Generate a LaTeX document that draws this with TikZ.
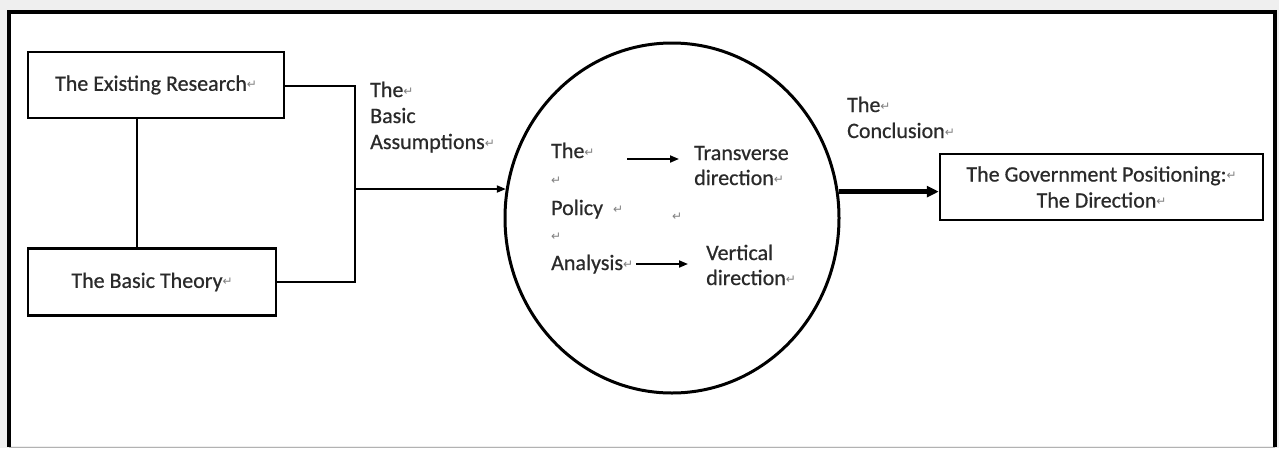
\documentclass[tikz,border=0pt]{standalone}
\usepackage{fontspec}
\setmainfont{Carlito}[FakeBold=0.5]
\newfontfamily\symfont{DejaVu Sans}
\newfontfamily\txtfont{Carlito}[FakeBold=0.6]
\usetikzlibrary{shapes.geometric,arrows.meta}
\definecolor{bg}{HTML}{EFEFEF}
\definecolor{txt}{HTML}{2A2A2A}
\newcommand{\rmk}{{\symfont\fontsize{12}{12}\selectfont\color{gray}\raisebox{2pt}{↵}}}
\begin{document}
\begin{tikzpicture}[x=1pt,y=-1pt,
  box/.style={draw=black,line width=2.5pt,fill=white,inner sep=0pt,text=txt,font=\txtfont\fontsize{22}{26}\selectfont,align=center},
  lbl/.style={anchor=base west,inner sep=0pt,text=txt,font=\txtfont\fontsize{22}{26}\selectfont},
  conn/.style={draw=black,line width=1.5pt},
  arr/.style={draw=black,line width=1.8pt,-{Triangle[length=9pt,width=7pt]}},
  bigarr/.style={draw=black,line width=4.5pt,-{Triangle[length=12pt,width=11pt]}}]
\useasboundingbox (0,0) rectangle (1279,448);
\fill[bg] (0,0) rectangle (1279,448);
\fill[white] (9,12) rectangle (1275,446);
\draw[black,line width=4pt] (9,447) -- (9,12) -- (1275,12) -- (1275,447);
\draw[gray!60,line width=1pt] (9,447) -- (1275,447);

\node[box,minimum width=256pt,minimum height=66pt] (er) at (156,85) {The Existing Research\rmk};
\node[box,minimum width=248pt,minimum height=67pt] (bt) at (152,282) {The Basic Theory\rmk};
\node[box,minimum width=323pt,minimum height=66pt] (gov) at (1101.5,187) {The Government Positioning:\rmk\\The Direction\rmk};
\node[ellipse,draw=black,line width=3pt,minimum width=334pt,minimum height=350pt,inner sep=0pt] (circ) at (672,218) {};

\coordinate (j1) at (355,86);
\coordinate (j2) at (355,282);
\coordinate (j3) at (355,189);
\draw[conn] (er.south -| 137,0) -- (bt.north -| 137,0);
\draw[conn] (er.east |- j1) -- (j1) -- (j2) -- (bt.east);
\draw[arr] (j3) -- (j3 -| circ.170);
\draw[bigarr] (circ.9) -- (circ.9 -| gov.west);

\node[lbl] (t1) at (370,97) {The\rmk};
\node[lbl] (t2) at (370,123) {Basic};
\node[lbl] (t3) at (370,149) {Assumptions\rmk};

\node[lbl] (c1) at (847,112) {The\rmk};
\node[lbl] (c2) at (847,138) {Conclusion\rmk};

\node[lbl] (p1) at (551,158) {The\rmk};
\node[lbl] (p2) at (551,186) {\rmk};
\node[lbl] (p3) at (551,215) {Policy \ \rmk};
\node[lbl] (p4) at (551,242) {\rmk};
\node[lbl] (p5) at (551,270) {Analysis\rmk};
\node[lbl] (m1) at (672,222) {\rmk};

\node[lbl] (tr1) at (694,160) {Transverse};
\node[lbl] (tr2) at (694,185) {direction\rmk};
\node[lbl] (v1) at (706,260) {Vertical};
\node[lbl] (v2) at (706,285) {direction\rmk};

\coordinate (a1s) at (627,159);
\coordinate (a1e) at (679,159);
\coordinate (a2s) at (636,264);
\coordinate (a2e) at (688,264);
\draw[arr] (a1s) -- (a1e);
\draw[arr] (a2s) -- (a2e);
\end{tikzpicture}
\end{document}
